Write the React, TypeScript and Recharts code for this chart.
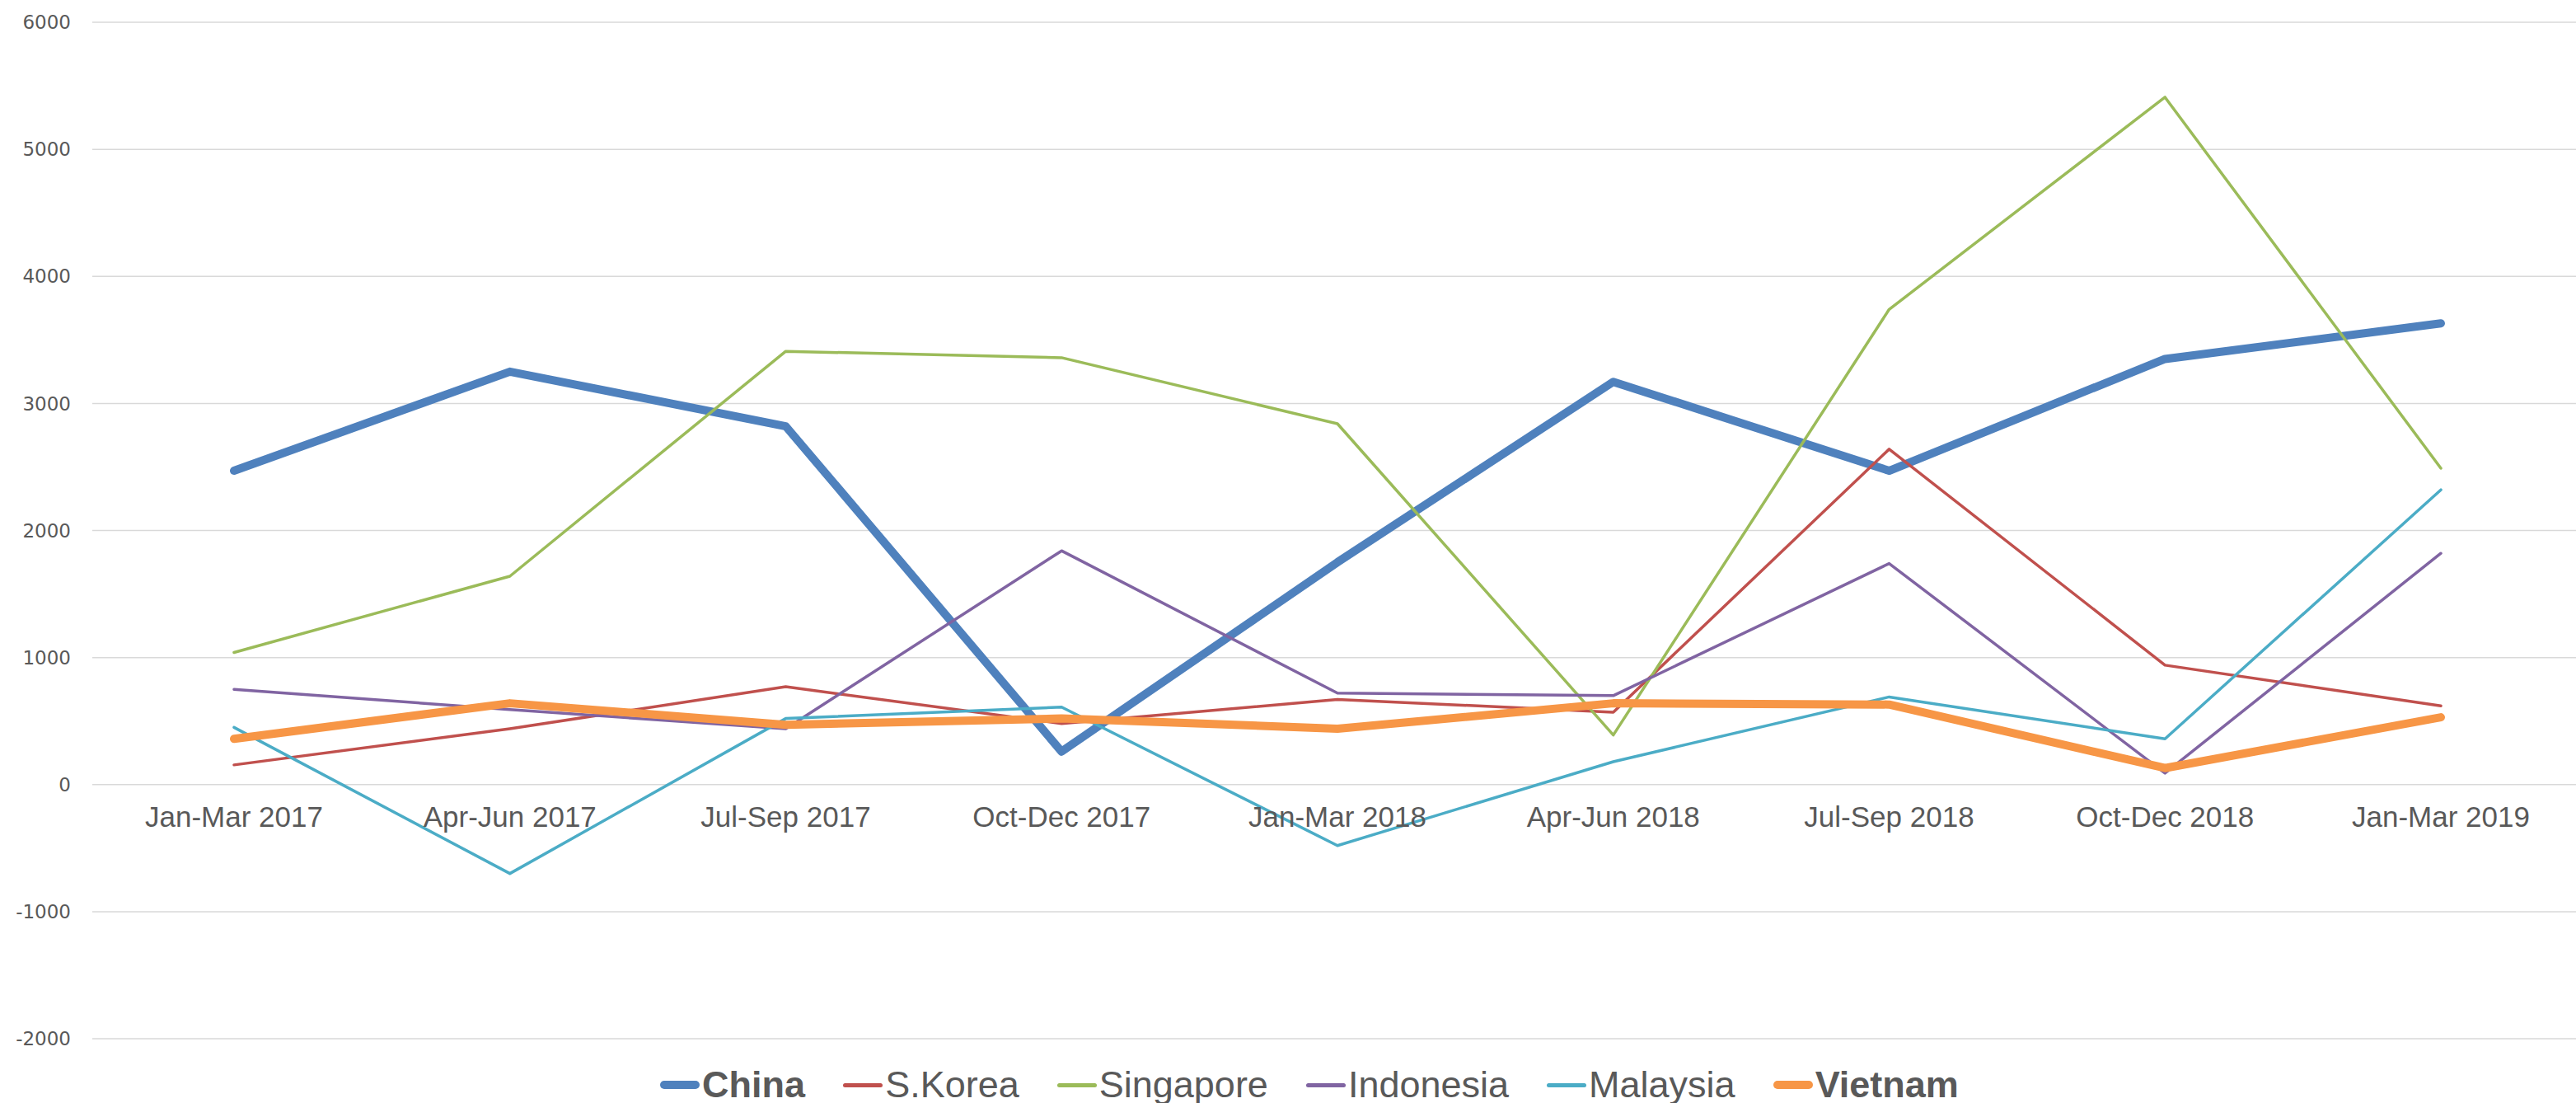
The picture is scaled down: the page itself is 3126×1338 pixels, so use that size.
import { LineChart, Line, XAxis, YAxis, CartesianGrid, Legend } from 'recharts';

const quarters = [
  'Jan-Mar 2017', 'Apr-Jun 2017', 'Jul-Sep 2017', 'Oct-Dec 2017',
  'Jan-Mar 2018', 'Apr-Jun 2018', 'Jul-Sep 2018', 'Oct-Dec 2018', 'Jan-Mar 2019',
];

const china = [2470, 3250, 2820, 260, 1750, 3170, 2470, 3350, 3630];
const sKorea = [155, 440, 770, 480, 670, 570, 2640, 940, 620];
const singapore = [1040, 1640, 3410, 3360, 2840, 390, 3740, 5410, 2490];
const indonesia = [750, 590, 440, 1840, 720, 700, 1740, 90, 1820];
const malaysia = [450, -700, 520, 610, -480, 180, 690, 360, 2320];
const vietnam = [360, 640, 470, 520, 440, 640, 630, 130, 530];

const yTicks = [-2000, -1000, 0, 1000, 2000, 3000, 4000, 5000, 6000];

const data = quarters.map((quarter, i) => ({
  quarter,
  China: china[i],
  'S.Korea': sKorea[i],
  Singapore: singapore[i],
  Indonesia: indonesia[i],
  Malaysia: malaysia[i],
  Vietnam: vietnam[i],
}));

const series = [
  { key: 'China', color: '#4F81BD', thick: true },
  { key: 'S.Korea', color: '#C0504D', thick: false },
  { key: 'Singapore', color: '#9BBB59', thick: false },
  { key: 'Indonesia', color: '#8064A2', thick: false },
  { key: 'Malaysia', color: '#4BACC6', thick: false },
  { key: 'Vietnam', color: '#F79646', thick: true },
];

const W = 3126;
const H = 1338;
const TOP = 27;
const LEGEND_H = 77;
const PLOT_H = H - TOP - LEGEND_H - 1;
const Y_MIN = yTicks[0];
const Y_MAX = yTicks[yTicks.length - 1];
// category labels sit just under the zero line, like the Excel original
const ZERO_OFFSET = (PLOT_H * (0 - Y_MIN)) / (Y_MAX - Y_MIN);
const TEXT = '#595959';

function QuarterTick({ x, y, payload }: any) {
  return (
    <text
      x={x}
      y={y - ZERO_OFFSET + 39}
      textAnchor="middle"
      dominantBaseline="central"
      fill={TEXT}
      fontSize={35}
      fontFamily="'Liberation Sans', Arial, sans-serif"
    >
      {payload.value}
    </text>
  );
}

function LegendBox() {
  return (
    <div
      style={{
        height: LEGEND_H,
        boxSizing: 'border-box',
        paddingTop: 33,
        paddingLeft: 52,
        display: 'flex',
        justifyContent: 'center',
        alignItems: 'center',
        gap: 46,
        fontFamily: "'Liberation Sans', Arial, sans-serif",
        fontSize: 45,
        color: TEXT,
      }}
    >
      {series.map((s) => (
        <div key={s.key} style={{ display: 'flex', alignItems: 'center', gap: 3, height: 44 }}>
          <span
            style={{
              width: 48,
              height: s.thick ? 10 : 5,
              borderRadius: 5,
              background: s.color,
            }}
          />
          <span style={{ fontWeight: s.thick ? 700 : 400, lineHeight: '44px' }}>{s.key}</span>
        </div>
      ))}
    </div>
  );
}

export default function App() {
  return (
    <div style={{ position: 'absolute', left: 0, top: 0, width: W, height: H, background: '#fff' }}>
      <LineChart width={W} height={H} data={data} margin={{ top: TOP, right: 0, left: 0, bottom: 0 }}>
        <CartesianGrid vertical={false} stroke="#d9d9d9" strokeWidth={1.5} />
        <XAxis
          dataKey="quarter"
          height={1}
          axisLine={false}
          tickLine={false}
          tickSize={0}
          tickMargin={0}
          interval={0}
          padding={{ left: 172, right: 164 }}
          tick={<QuarterTick />}
        />
        <YAxis
          width={112}
          domain={[Y_MIN, Y_MAX]}
          ticks={yTicks}
          axisLine={false}
          tickLine={false}
          tickSize={0}
          tickMargin={26}
          tick={{ fill: TEXT, fontSize: 23, fontFamily: "'DejaVu Sans', Verdana, sans-serif" }}
        />
        <Legend verticalAlign="bottom" height={LEGEND_H} content={<LegendBox />} />
        {series.map((s) => (
          <Line
            key={s.key}
            type="linear"
            dataKey={s.key}
            stroke={s.color}
            strokeWidth={s.thick ? 10 : 3.5}
            strokeLinejoin="round"
            strokeLinecap="round"
            dot={false}
            activeDot={false}
            isAnimationActive={false}
          />
        ))}
      </LineChart>
    </div>
  );
}
